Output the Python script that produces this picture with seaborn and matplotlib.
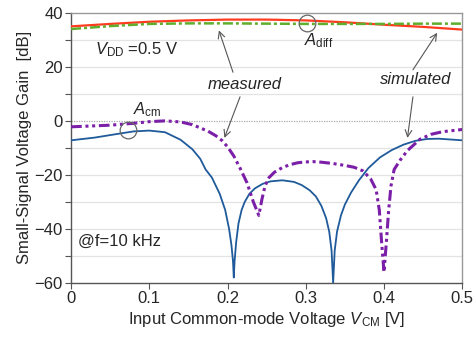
import numpy as np
import pandas as pd
import matplotlib
matplotlib.use("Agg")
import matplotlib.pyplot as plt
import seaborn as sns

# Differential gain (dB)
adiff_sim_x = [0.0, 0.05, 0.1, 0.15, 0.2, 0.25, 0.3, 0.35, 0.4, 0.45, 0.5]
adiff_sim_y = [35.0, 35.9, 36.7, 37.2, 37.5, 37.5, 37.2, 36.5, 35.6, 34.8, 33.8]

adiff_meas_x = [0.0, 0.05, 0.1, 0.15, 0.2, 0.25, 0.3, 0.35, 0.4, 0.45, 0.5]
adiff_meas_y = [34.0, 35.1, 35.9, 36.1, 36.1, 36.0, 35.9, 35.9, 35.9, 36.0, 36.0]

# Common-mode gain (dB)
acm_sim_x = [0.0, 0.03, 0.06, 0.08, 0.1, 0.12, 0.14, 0.155, 0.165, 0.172, 0.18,
             0.19, 0.197, 0.202, 0.205, 0.207, 0.208, 0.209, 0.211, 0.214, 0.218,
             0.222, 0.228, 0.235, 0.245, 0.255, 0.27, 0.285, 0.295, 0.305, 0.313,
             0.32, 0.326, 0.33, 0.333, 0.335, 0.337, 0.34, 0.345, 0.35, 0.358,
             0.368, 0.38, 0.395, 0.41, 0.425, 0.44, 0.455, 0.47, 0.485, 0.5]
acm_sim_y = [-7.2, -6.2, -4.8, -3.9, -3.6, -4.2, -7.0, -10.5, -14.0, -18.0, -21.0,
             -27.0, -33.0, -40.0, -46.0, -52.0, -58.0, -52.0, -45.0, -38.0, -33.0,
             -30.0, -27.0, -25.0, -23.3, -22.4, -22.0, -22.6, -23.8, -25.7, -28.0,
             -31.5, -36.0, -41.0, -48.0, -60.0, -48.0, -41.0, -35.0, -31.0, -26.5,
             -22.0, -17.5, -13.5, -10.8, -8.8, -7.4, -6.7, -6.6, -6.9, -7.2]

acm_meas_x = [0.0, 0.05, 0.08, 0.1, 0.12, 0.14, 0.155, 0.165, 0.175, 0.185, 0.193,
              0.2, 0.208, 0.216, 0.225, 0.233, 0.24, 0.244, 0.248, 0.253, 0.26,
              0.27, 0.28, 0.29, 0.3, 0.31, 0.32, 0.335, 0.35, 0.362, 0.373,
              0.383, 0.39, 0.394, 0.397, 0.4, 0.403, 0.406, 0.409, 0.413, 0.421,
              0.43, 0.446, 0.46, 0.475, 0.5]
acm_meas_y = [-2.2, -1.6, -0.9, -0.3, 0.0, -0.4, -1.4, -2.6, -3.8, -5.5, -7.3,
              -9.6, -13.0, -17.5, -23.0, -30.0, -35.0, -29.0, -24.0, -21.0, -19.0,
              -17.3, -16.2, -15.5, -15.2, -15.1, -15.3, -15.8, -16.5, -17.2, -18.5,
              -21.5, -25.5, -33.0, -45.0, -56.0, -45.0, -33.0, -24.0, -18.0, -14.4,
              -11.0, -6.8, -5.0, -4.0, -3.2]

x_ticks = [0, 0.1, 0.2, 0.3, 0.4, 0.5]
x_tick_labels = ["0", "0.1", "0.2", "0.3", "0.4", "0.5"]
y_ticks = [-60, -40, -20, 0, 20, 40]

sns.set_theme(style="ticks")
plt.rcParams["font.family"] = ["Liberation Sans", "DejaVu Sans"]
plt.rcParams["mathtext.fontset"] = "custom"
plt.rcParams["mathtext.rm"] = "Liberation Sans"
plt.rcParams["mathtext.it"] = "Liberation Sans:italic"

fig = plt.figure(figsize=(4.77, 3.38), dpi=100)
ax = fig.add_axes([0.149, 0.163, 0.820, 0.799])

# grid
for g in [-50, -40, -30, -20, -10, 10, 20, 30]:
    ax.axhline(g, color="#e3e3e3", lw=0.9, zorder=0)
ax.axhline(0, color="#aaaaaa", lw=0.9, ls=(0, (1, 1)), zorder=0)

sns.lineplot(x=adiff_sim_x, y=adiff_sim_y, ax=ax, color="#ff3b1f", lw=1.6, zorder=3)
sns.lineplot(x=adiff_meas_x, y=adiff_meas_y, ax=ax, color="#5fae2e", lw=1.8,
             zorder=4).lines[-1].set_dashes((4, 1.2, 1.2, 1.2))
sns.lineplot(x=acm_sim_x, y=acm_sim_y, ax=ax, color="#1f5a9a", lw=1.3, zorder=3)
l = sns.lineplot(x=acm_meas_x, y=acm_meas_y, ax=ax, color="#7b1fa8", lw=2.2, zorder=4).lines[-1]
l.set_dashes((3.5, 1.2, 1, 1.2, 1, 1.2))

ax.set_xlim(0, 0.5)
ax.set_ylim(-60, 40)
ax.set_xticks(x_ticks)
ax.set_xticklabels(x_tick_labels)
ax.set_yticks(y_ticks)
ax.set_yticks([-50, -30, -10, 10, 30], minor=True)
ax.tick_params(axis="both", labelsize=12, direction="out", length=4, width=0.8,
               color="#555555", pad=2)
ax.tick_params(axis="y", which="minor", direction="out", length=4, width=0.8, color="#555555")

for side in ["left", "bottom"]:
    ax.spines[side].set_color("#555555")
    ax.spines[side].set_linewidth(1.0)
for side in ["top", "right"]:
    ax.spines[side].set_color("#999999")
    ax.spines[side].set_linewidth(1.0)

ax.set_ylabel("Small-Signal Voltage Gain  [dB]", fontsize=12, labelpad=2)
ax.set_xlabel(r"Input Common-mode Voltage $\mathit{V}$$_{\mathrm{CM}}$ [V]", fontsize=12, labelpad=3)

# labels
ax.text(0.031, 26.3, r"$\mathit{V}_{\mathrm{DD}}$ =0.5 V", fontsize=12, va="center", ha="left")
ax.text(0.009, -44.6, "@f=10 kHz", fontsize=12, va="center", ha="left")
ax.text(0.2225, 13.3, "measured", fontsize=12, style="italic", ha="center", va="center")
ax.text(0.44, 15.2, "simulated", fontsize=12, style="italic", ha="center", va="center")
ax.text(0.098, 4.0, r"$\mathit{A}_{\mathrm{cm}}$", fontsize=12, ha="center", va="center")
ax.text(0.316, 29.6, r"$\mathit{A}_{\mathrm{diff}}$", fontsize=12, ha="center", va="center")

arrow = dict(arrowstyle="->", color="#555555", lw=0.8, shrinkA=0, shrinkB=0)
ax.annotate("", xy=(0.189, 33.5), xytext=(0.207, 18.0), arrowprops=arrow)
ax.annotate("", xy=(0.196, -6.3), xytext=(0.216, 8.9), arrowprops=arrow)
ax.annotate("", xy=(0.468, 32.6), xytext=(0.437, 18.9), arrowprops=arrow)
ax.annotate("", xy=(0.43, -6.3), xytext=(0.437, 8.9), arrowprops=arrow)

# circled points
ax.plot([0.073], [-3.3], marker="o", ms=12, mfc="none", mec="#666666", mew=0.9, zorder=5)
ax.plot([0.302], [36.3], marker="o", ms=12, mfc="none", mec="#666666", mew=0.9, zorder=5)

fig.savefig("out.png", dpi=100)
